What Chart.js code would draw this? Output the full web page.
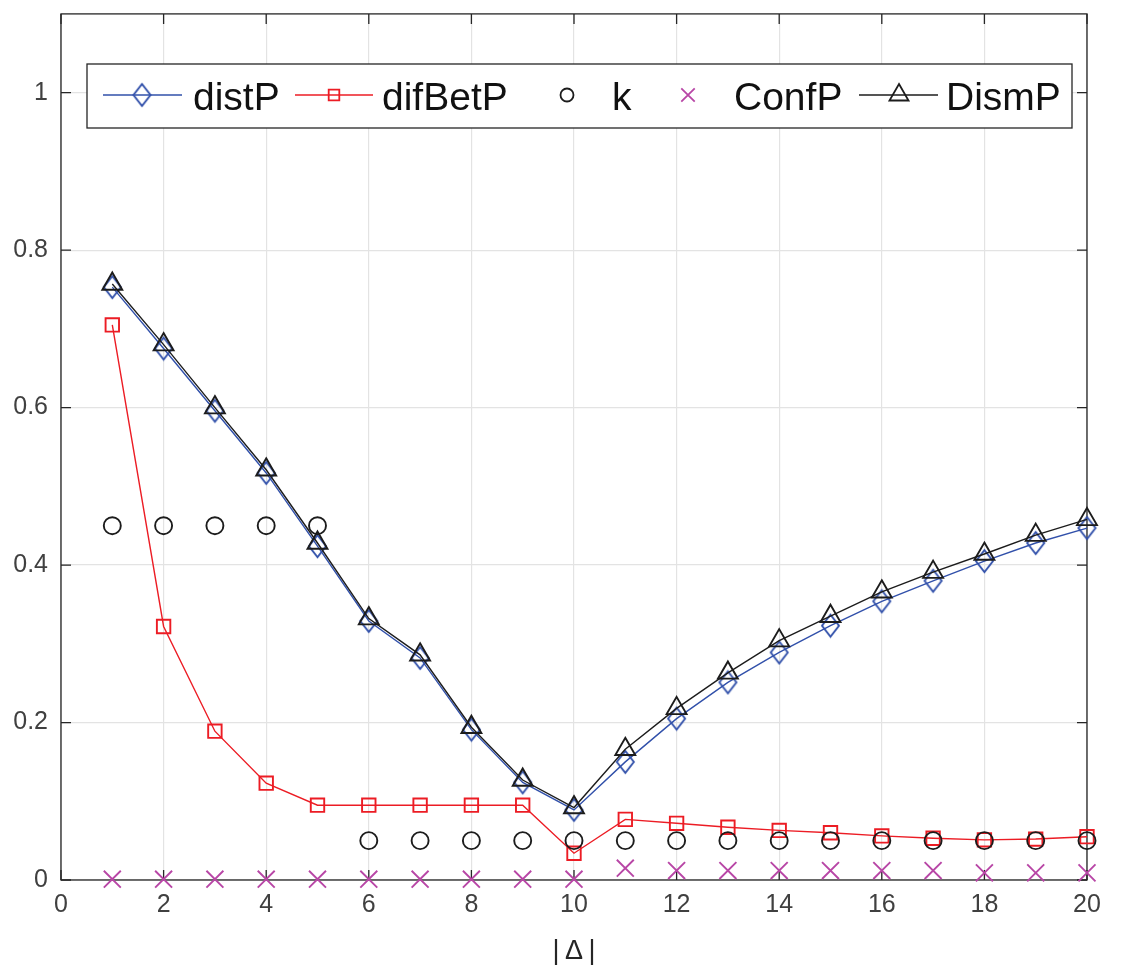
<!DOCTYPE html>
<html lang="en">
  <head>
    <meta charset="utf-8" />
    <title>distP / difBetP / k / ConfP / DismP</title>
    <style>
      html, body { margin: 0; padding: 0; background: #ffffff; }
      #wrap { width: 1125px; height: 968px; }
    </style>
  </head>
  <body>
    <div id="wrap"><canvas id="chart" width="1125" height="968"></canvas></div>
    <script src="https://cdn.jsdelivr.net/npm/chart.js@4.4.1/dist/chart.umd.min.js"></script>
    <script>
      // |delta| values on the x axis
      const delta = [1, 2, 3, 4, 5, 6, 7, 8, 9, 10, 11, 12, 13, 14, 15, 16, 17, 18, 19, 20];

      const distP   = [0.753, 0.675, 0.596, 0.517, 0.424, 0.329, 0.282, 0.191, 0.124, 0.089,
                       0.150, 0.205, 0.251, 0.289, 0.323, 0.354, 0.380, 0.405, 0.428, 0.447];
      const difBetP = [0.705, 0.322, 0.189, 0.123, 0.095, 0.095, 0.095, 0.095, 0.095, 0.034,
                       0.077, 0.072, 0.067, 0.063, 0.060, 0.056, 0.053, 0.051, 0.052, 0.055];
      const kVals   = [0.45, 0.45, 0.45, 0.45, 0.45, 0.05, 0.05, 0.05, 0.05, 0.05,
                       0.05, 0.05, 0.05, 0.05, 0.05, 0.05, 0.05, 0.05, 0.05, 0.05];
      const confP   = [0.001, 0.001, 0.001, 0.001, 0.001, 0.001, 0.001, 0.001, 0.001, 0.001,
                       0.015, 0.012, 0.012, 0.012, 0.012, 0.012, 0.012, 0.009, 0.009, 0.009];
      const dismP   = [0.757, 0.680, 0.600, 0.521, 0.428, 0.332, 0.286, 0.194, 0.127, 0.092,
                       0.166, 0.218, 0.263, 0.304, 0.335, 0.366, 0.391, 0.414, 0.438, 0.458];

      const xTicks = [0, 2, 4, 6, 8, 10, 12, 14, 16, 18, 20];
      const yTicks = [0, 0.2, 0.4, 0.6, 0.8, 1];

      const BLUE = '#3150aa';
      const RED = '#ec1c24';
      const BLACK = '#1c1c1c';
      const MAGENTA = '#b846a6';
      const AXIS = '#262626';
      const FONT = '"Liberation Sans", Arial, Helvetica, sans-serif';

      const pts = (ys) => delta.map((x, i) => ({ x: x, y: ys[i] }));

      // MATLAB-like diamond (taller than wide), drawn once into a small canvas
      function diamondImage(w, h, color, lw) {
        const c = document.createElement('canvas');
        c.width = w + 4; c.height = h + 4;
        const g = c.getContext('2d');
        g.strokeStyle = color;
        g.lineWidth = lw;
        g.beginPath();
        g.moveTo(c.width / 2, 2);
        g.lineTo(c.width - 2, c.height / 2);
        g.lineTo(c.width / 2, c.height - 2);
        g.lineTo(2, c.height / 2);
        g.closePath();
        g.stroke();
        return c;
      }
      const diamond = diamondImage(17, 22, BLUE, 1.9);

      const series = [
        { label: 'distP', data: pts(distP), borderColor: BLUE, pointStyle: diamond, pointRadius: 10, showLine: true, order: 4 },
        { label: 'difBetP', data: pts(difBetP), borderColor: RED, pointStyle: 'rect', pointRadius: 9.5, showLine: true, order: 3 },
        { label: 'k', data: pts(kVals), borderColor: BLACK, pointStyle: 'circle', pointRadius: 8.5, showLine: false, order: 2 },
        { label: 'ConfP', data: pts(confP), borderColor: MAGENTA, pointStyle: 'crossRot', pointRadius: 12, showLine: false, order: 1 },
        { label: 'DismP', data: pts(dismP), borderColor: BLACK, pointStyle: 'triangle', pointRadius: 11.5, showLine: true, order: 0 }
      ];

      const datasets = series.map(s => ({
        ...s,
        backgroundColor: 'rgba(0,0,0,0)',
        pointBackgroundColor: 'rgba(0,0,0,0)',
        pointBorderColor: s.borderColor,
        pointBorderWidth: 1.9,
        pointHoverRadius: s.pointRadius,
        borderWidth: 1.4,
        tension: 0,
        fill: false,
        clip: false
      }));

      // box, inward ticks and the boxed legend MATLAB draws
      const matlabAxes = {
        id: 'matlabAxes',
        beforeDatasetsDraw(chart) {
          const { ctx, chartArea: a, scales } = chart;
          ctx.save();
          ctx.strokeStyle = AXIS;
          ctx.lineWidth = 1.3;
          ctx.strokeRect(a.left, a.top, a.right - a.left, a.bottom - a.top);
          ctx.beginPath();
          const tl = 10;
          xTicks.forEach(v => {
            const px = scales.x.getPixelForValue(v);
            ctx.moveTo(px, a.bottom); ctx.lineTo(px, a.bottom - tl);
            ctx.moveTo(px, a.top); ctx.lineTo(px, a.top + tl);
          });
          yTicks.forEach(v => {
            const py = scales.y.getPixelForValue(v);
            ctx.moveTo(a.left, py); ctx.lineTo(a.left + tl, py);
            ctx.moveTo(a.right, py); ctx.lineTo(a.right - tl, py);
          });
          ctx.stroke();
          ctx.restore();
        },
        afterDatasetsDraw(chart) {
          const { ctx } = chart;
          ctx.save();
          // legend
          const box = { l: 87, t: 64, r: 1072, b: 128 };
          ctx.fillStyle = '#ffffff';
          ctx.fillRect(box.l, box.t, box.r - box.l, box.b - box.t);
          ctx.strokeStyle = AXIS;
          ctx.lineWidth = 1.3;
          ctx.strokeRect(box.l, box.t, box.r - box.l, box.b - box.t);

          const cy = 95;
          const entries = [
            { ds: 0, line: [103, 182], mark: 142, text: 193, r: 10 },
            { ds: 1, line: [295, 373], mark: 334, text: 382, r: 7.5 },
            { ds: 2, line: null, mark: 567, text: 612, r: 6.5 },
            { ds: 3, line: null, mark: 688, text: 734, r: 9.5 },
            { ds: 4, line: [859, 938], mark: 899, text: 946, r: 11 }
          ];
          ctx.font = '39px ' + FONT;
          ctx.textBaseline = 'alphabetic';
          ctx.textAlign = 'left';
          entries.forEach(e => {
            const d = datasets[e.ds];
            ctx.strokeStyle = d.borderColor;
            if (e.line) {
              ctx.lineWidth = 1.4;
              ctx.beginPath();
              ctx.moveTo(e.line[0], cy); ctx.lineTo(e.line[1], cy);
              ctx.stroke();
            }
            ctx.lineWidth = 1.8;
            if (d.pointStyle instanceof HTMLCanvasElement) {
              ctx.drawImage(d.pointStyle, e.mark - d.pointStyle.width / 2, cy - d.pointStyle.height / 2);
            } else {
              ctx.fillStyle = 'rgba(0,0,0,0)';
              Chart.helpers.drawPoint(ctx, { pointStyle: d.pointStyle, radius: e.r, rotation: 0, borderWidth: 1.8 }, e.mark, cy);
            }
            ctx.fillStyle = '#111111';
            ctx.fillText(d.label, e.text, 110);
          });
          ctx.restore();
        }
      };

      Chart.defaults.font.family = FONT;
      Chart.defaults.color = '#404040';

      new Chart(document.getElementById('chart'), {
        type: 'scatter',
        data: { datasets: datasets },
        options: {
          responsive: false,
          animation: false,
          layout: { padding: { left: 0, right: 38, top: 7, bottom: 0 } },
          plugins: { legend: { display: false }, tooltip: { enabled: false } },
          scales: {
            x: {
              type: 'linear',
              min: 0,
              max: 20,
              afterBuildTicks: (s) => { s.ticks = xTicks.map(v => ({ value: v })); },
              afterFit: (s) => { s.height = 88; s.paddingLeft = 0; s.paddingRight = 0; },
              grid: { color: '#e3e3e3', lineWidth: 1.2, drawTicks: false },
              border: { display: false },
              ticks: { font: { size: 25 }, padding: 10, maxRotation: 0, autoSkip: false },
              title: {
                display: true,
                text: '|\u2009\u0394\u2009|',
                font: { size: 27 },
                color: '#262626',
                padding: { top: 0, bottom: 0 }
              }
            },
            y: {
              type: 'linear',
              min: 0,
              max: 1.1,
              afterBuildTicks: (s) => { s.ticks = yTicks.map(v => ({ value: v })); },
              afterFit: (s) => { s.width = 61; s.paddingTop = 0; s.paddingBottom = 0; },
              grid: { color: '#e3e3e3', lineWidth: 1.2, drawTicks: false },
              border: { display: false },
              ticks: { font: { size: 25, lineHeight: 0.4 }, padding: 13, autoSkip: false, callback: (v) => String(v) }
            }
          }
        },
        plugins: [matlabAxes]
      });
    </script>
  </body>
</html>
